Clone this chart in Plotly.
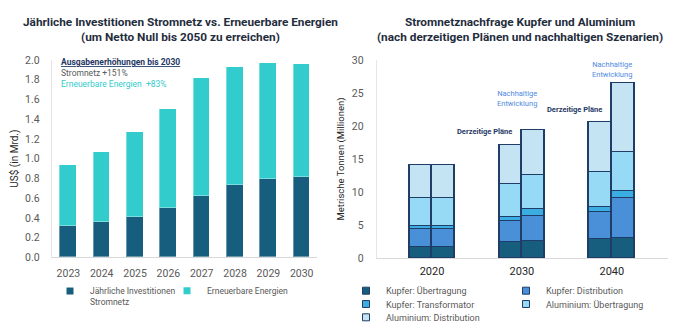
import plotly.graph_objects as go

# ---- Left chart: annual investment, grid vs. renewables (US$ bn) ----
years = ["2023", "2024", "2025", "2026", "2027", "2028", "2029", "2030"]
grid_invest = [0.32, 0.36, 0.41, 0.50, 0.62, 0.73, 0.79, 0.81]
renew_invest = [0.62, 0.71, 0.86, 1.00, 1.20, 1.20, 1.18, 1.15]
left_ticks = [0.0, 0.2, 0.4, 0.6, 0.8, 1.0, 1.2, 1.4, 1.6, 1.8, 2.0]

# ---- Right chart: copper and aluminium demand (million tonnes) ----
decades = ["2020", "2030", "2040"]
scenarios = ["Derzeitige Pläne", "Nachhaltige Entwicklung"]
series_names = ["Kupfer: Übertragung", "Kupfer: Distribution", "Kupfer: Transformator",
                "Aluminium: Übertragung", "Aluminium: Distribution"]
# values per decade for current plans / sustainable development
cu_transmission_cur = [1.72, 2.37, 2.83]
cu_transmission_sus = [1.72, 2.63, 3.08]
cu_distribution_cur = [2.62, 3.29, 4.09]
cu_distribution_sus = [2.62, 3.68, 6.01]
cu_transformer_cur = [0.51, 0.50, 0.76]
cu_transformer_sus = [0.51, 1.11, 1.01]
al_transmission_cur = [4.19, 5.00, 5.30]
al_transmission_sus = [4.19, 5.11, 5.91]
al_distribution_cur = [5.05, 5.91, 7.58]
al_distribution_sus = [5.05, 6.86, 10.51]
right_ticks = [0, 5, 10, 15, 20, 25, 30]

FONT = "Roboto, Noto Sans, sans-serif"
W, H = 673, 334
DARK = "#175e7e"
TEAL = "#33cccc"
GREY = "#595959"
OUTLINE = "#1f3d66"
right_colors = ["#175e7e", "#4a90d9", "#3aaee2", "#97daf6", "#c4e4f4"]


def px_x(x):
    return x / W


def px_y(y):
    return 1 - y / H


fig = go.Figure()

# left stacked bars
fig.add_trace(go.Bar(x=years, y=grid_invest, marker=dict(color=DARK, line=dict(color="rgba(255,255,255,0.35)", width=1)),
                     width=0.5, showlegend=False, xaxis="x", yaxis="y"))
fig.add_trace(go.Bar(x=years, y=renew_invest, marker=dict(color=TEAL, line=dict(color="rgba(255,255,255,0.35)", width=1)),
                     width=0.5, showlegend=False, xaxis="x", yaxis="y"))

# right stacked bars, two bars (scenarios) side by side per decade
bar_w = 0.252
offsets = [-bar_w / 2, bar_w / 2]
cur = [cu_transmission_cur, cu_distribution_cur, cu_transformer_cur, al_transmission_cur, al_distribution_cur]
sus = [cu_transmission_sus, cu_distribution_sus, cu_transformer_sus, al_transmission_sus, al_distribution_sus]
xpos = []
for i in range(len(decades)):
    for off in offsets:
        xpos.append(i + off)
for k, name in enumerate(series_names):
    vals = []
    for i in range(len(decades)):
        vals += [cur[k][i], sus[k][i]]
    fig.add_trace(go.Bar(x=xpos, y=vals, width=bar_w, name=name,
                         marker=dict(color=right_colors[k], line=dict(color=OUTLINE, width=1.3)),
                         showlegend=False, xaxis="x2", yaxis="y2"))

# legend entries (small square markers)
left_leg = [("Jährliche Investitionen<br>Stromnetz", DARK, "legend"), ("Erneuerbare Energien", TEAL, "legend5")]
for name, col, lg in left_leg:
    fig.add_trace(go.Scatter(x=[None], y=[None], mode="markers", name=name,
                             marker=dict(symbol="square", size=7, color=col),
                             xaxis="x", yaxis="y", legend=lg))
right_rows = ["legend2", "legend2", "legend3", "legend3", "legend4"]
for k, name in enumerate(series_names):
    fig.add_trace(go.Scatter(x=[None], y=[None], mode="markers", name=name,
                             marker=dict(symbol="square", size=7, color=right_colors[k],
                                         line=dict(color=OUTLINE, width=1)),
                             xaxis="x2", yaxis="y2", legend=right_rows[k]))

axis_font = dict(family=FONT, size=10.5, color=GREY)
fig.update_layout(
    width=W, height=H, margin=dict(l=0, r=0, t=0, b=0, autoexpand=False),
    paper_bgcolor="white", plot_bgcolor="white",
    barmode="stack", bargap=0,
    font=dict(family=FONT, size=10.5, color=GREY),
    xaxis=dict(domain=[px_x(51.7), px_x(316.7)], anchor="y", type="category", range=[-0.5, 7.45],
               showline=True, linecolor="#d9d9d9", linewidth=1, ticks="", tickfont=axis_font, tickangle=0,
               ticklabelstandoff=6, showgrid=False, fixedrange=True),
    yaxis=dict(domain=[px_y(257.3), px_y(60)], anchor="x", range=[0, 2.0], tickvals=left_ticks, tickformat=".1f",
               showline=True, linecolor="#e6e6e6", linewidth=1, ticks="", tickfont=axis_font,
               ticklabelstandoff=9, showgrid=False, zeroline=False,
               title=dict(text="US$ (in Mrd.)", font=dict(family=FONT, size=10, color="#262626"), standoff=4)),
    xaxis2=dict(domain=[px_x(376.7), px_x(668)], anchor="y2", range=[-0.615, 2.625], tickvals=[0, 1, 2],
                ticktext=decades, showline=True, linecolor="#d9d9d9", linewidth=1, ticks="", showgrid=False,
                zeroline=False, tickfont=dict(family=FONT, size=11, color="#262626"), ticklabelstandoff=3),
    yaxis2=dict(domain=[px_y(258), px_y(60)], anchor="x2", range=[0, 30], tickvals=right_ticks,
                showline=True, linecolor="#e6e6e6", linewidth=1, ticks="", tickfont=axis_font,
                ticklabelstandoff=10, showgrid=False, zeroline=False,
                title=dict(text="Metrische Tonnen (Millionen)", font=dict(family=FONT, size=9.5, color="#262626"),
                           standoff=5)),
)

leg_common = dict(orientation="h", xanchor="left", yanchor="middle", bgcolor="rgba(0,0,0,0)",
                  font=dict(family=FONT, size=9, color=GREY), itemwidth=30, tracegroupgap=0,
                  traceorder="normal")
left_leg_font = dict(family=FONT, size=8.5, color=GREY)
fig.update_layout(
    legend={**leg_common, "x": px_x(50), "y": px_y(297), "valign": "top", "font": left_leg_font},
    legend5={**leg_common, "x": px_x(167), "y": px_y(290.7), "font": left_leg_font},
    legend2=dict(**leg_common, x=px_x(346), y=px_y(290.7), entrywidth=115, entrywidthmode="pixels"),
    legend3=dict(**leg_common, x=px_x(346), y=px_y(304), entrywidth=115, entrywidthmode="pixels"),
    legend4=dict(**leg_common, x=px_x(346), y=px_y(317.3), entrywidth=115, entrywidthmode="pixels"),
)

title_font = dict(family=FONT, size=11.8, color="#1f2d3d")
ann = [
    dict(text="<b>Jährliche Investitionen Stromnetz vs. Erneuerbare Energien</b><br><b>(um Netto Null bis 2050 zu erreichen)</b>",
         x=px_x(180), y=px_y(29.7), xref="paper", yref="paper", showarrow=False, font=title_font,
         xanchor="center", yanchor="middle", align="center"),
    dict(text="<b>Stromnetznachfrage Kupfer und Aluminium</b><br><b>(nach derzeitigen Plänen und nachhaltigen Szenarien)</b>",
         x=px_x(520), y=px_y(29.7), xref="paper", yref="paper", showarrow=False, font=title_font,
         xanchor="center", yanchor="middle", align="center"),
    dict(text="<u><b>Ausgabenerhöhungen bis 2030</b></u>", x=px_x(59), y=px_y(61.7), xref="paper", yref="paper",
         showarrow=False, xanchor="left", yanchor="middle", font=dict(family=FONT, size=8.5, color="#1f3864")),
    dict(text="Stromnetz +151%", x=px_x(59), y=px_y(73.3), xref="paper", yref="paper",
         showarrow=False, xanchor="left", yanchor="middle", font=dict(family=FONT, size=8.5, color=GREY)),
    dict(text="Erneuerbare Energien  +83%", x=px_x(59), y=px_y(83.5), xref="paper", yref="paper",
         showarrow=False, xanchor="left", yanchor="middle", font=dict(family=FONT, size=8.5, color=TEAL)),
]
# scenario labels above the 2030 and 2040 bars
scen_font_cur = dict(family=FONT, size=7.5, color="#1f3864")
scen_font_sus = dict(family=FONT, size=7.5, color="#4f8be0")
ann += [
    dict(text="<b>" + scenarios[0] + "</b>", x=0.58, y=19.1, xref="x2", yref="y2", showarrow=False, font=scen_font_cur),
    dict(text="Nachhaltige<br>Entwicklung", x=0.94, y=24.2, xref="x2", yref="y2", showarrow=False, font=scen_font_sus),
    dict(text="<b>" + scenarios[0] + "</b>", x=1.59, y=22.5, xref="x2", yref="y2", showarrow=False, font=scen_font_cur),
    dict(text="Nachhaltige<br>Entwicklung", x=2.0, y=28.5, xref="x2", yref="y2", showarrow=False, font=scen_font_sus),
]
fig.update_layout(annotations=ann)

fig.write_html("out.html")
